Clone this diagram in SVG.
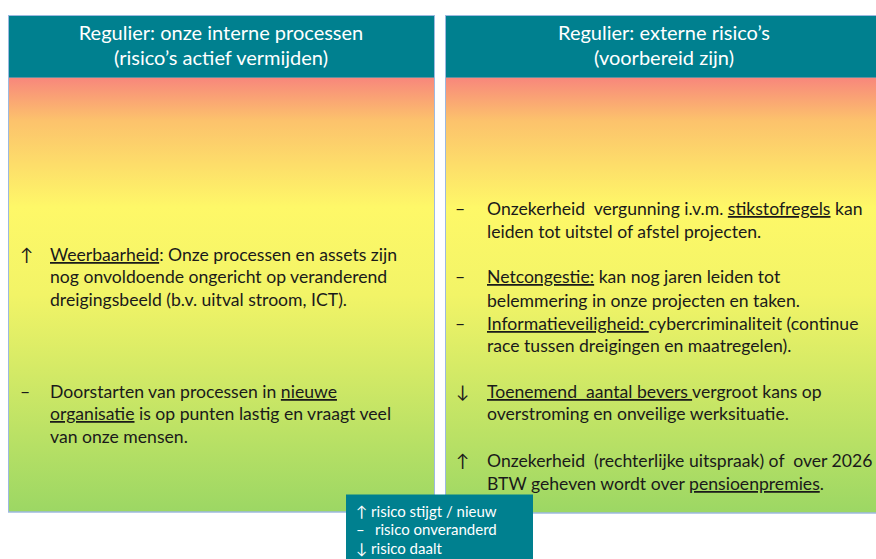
<svg xmlns="http://www.w3.org/2000/svg" width="876" height="559" viewBox="0 0 876 559">
<defs>
<linearGradient id="g" x1="0" y1="0" x2="0" y2="1">
<stop offset="0" stop-color="#F8867C"/>
<stop offset="0.1" stop-color="#FCC26C"/>
<stop offset="0.3" stop-color="#FEF868"/>
<stop offset="0.5" stop-color="#F2F467"/>
<stop offset="1" stop-color="#9CD764"/>
</linearGradient>
<style>
.hdr{fill:#00808F;}
.body{fill:url(#g);stroke:#9DB9E0;stroke-width:1;}
.frame{fill:none;stroke:#9DB9E0;stroke-width:1;}
.ht{font-family:Lato,"Liberation Sans",sans-serif;font-size:20px;fill:#FFFFFF;text-anchor:middle;}
.t{font-family:Lato,"Liberation Sans",sans-serif;font-size:17.6px;fill:#1A1A1A;white-space:pre;}
.lg{font-family:Lato,"Liberation Sans",sans-serif;font-size:15px;fill:#FFFFFF;white-space:pre;}
.u{text-decoration:underline;}
</style>
</defs>
<rect width="876" height="559" fill="#FFFFFF"/>
<g id="panel-left">
<rect class="body" x="8.5" y="77" width="426" height="435"/>
<rect class="hdr" x="8.5" y="15.5" width="426" height="62"/>
<rect class="frame" x="8.5" y="15.5" width="426" height="496.5"/>
<text class="ht" x="221" y="40">Regulier: onze interne processen</text>
<text class="ht" x="221" y="65">(risico’s actief vermijden)</text>
<text class="t" x="20" y="261">↑</text>
<text class="t" x="50" y="261"><tspan class="u">Weerbaarheid</tspan>: Onze processen en assets zijn</text>
<text class="t" x="50" y="283">nog onvoldoende ongericht op veranderend</text>
<text class="t" x="50" y="306">dreigingsbeeld (b.v. uitval stroom, ICT).</text>
<text class="t" x="20" y="398">–</text>
<text class="t" x="50" y="398">Doorstarten van processen in <tspan class="u">nieuwe</tspan></text>
<text class="t" x="50" y="420"><tspan class="u">organisatie</tspan> is op punten lastig en vraagt veel</text>
<text class="t" x="50" y="443">van onze mensen.</text>
</g>
<g id="panel-right">
<rect class="body" x="445.5" y="77" width="436" height="436"/>
<rect class="hdr" x="445.5" y="15.5" width="436" height="62"/>
<rect class="frame" x="445.5" y="15.5" width="436" height="497.5"/>
<text class="ht" x="664" y="40">Regulier: externe risico’s</text>
<text class="ht" x="664" y="65">(voorbereid zijn)</text>
<text class="t" x="455" y="215">–</text>
<text class="t" x="487" y="215">Onzekerheid  vergunning i.v.m. <tspan class="u">stikstofregels</tspan> kan</text>
<text class="t" x="487" y="238">leiden tot uitstel of afstel projecten.</text>
<text class="t" x="455" y="283">–</text>
<text class="t" x="487" y="283"><tspan class="u">Netcongestie:</tspan> kan nog jaren leiden tot</text>
<text class="t" x="487" y="307">belemmering in onze projecten en taken.</text>
<text class="t" x="455" y="330">–</text>
<text class="t" x="487" y="330"><tspan class="u">Informatieveiligheid: </tspan>cybercriminaliteit (continue</text>
<text class="t" x="487" y="352">race tussen dreigingen en maatregelen).</text>
<text class="t" x="456" y="398">↓</text>
<text class="t" x="487" y="398"><tspan class="u">Toenemend  aantal bevers </tspan>vergroot kans op</text>
<text class="t" x="487" y="420">overstroming en onveilige werksituatie.</text>
<text class="t" x="456" y="467">↑</text>
<text class="t" x="487" y="467">Onzekerheid  (rechterlijke uitspraak) of  over 2026</text>
<text class="t" x="487" y="490">BTW geheven wordt over <tspan class="u">pensioenpremies</tspan>.</text>
</g>
<g id="legend">
<rect class="hdr" x="346" y="494.5" width="187" height="65"/>
<text class="lg" x="356" y="517">↑ risico stijgt / nieuw</text>
<text class="lg" x="356" y="535">–</text>
<text class="lg" x="375" y="535">risico onveranderd</text>
<text class="lg" x="356" y="554">↓ risico daalt</text>
</g>
<g id="connectors"/>
</svg>
